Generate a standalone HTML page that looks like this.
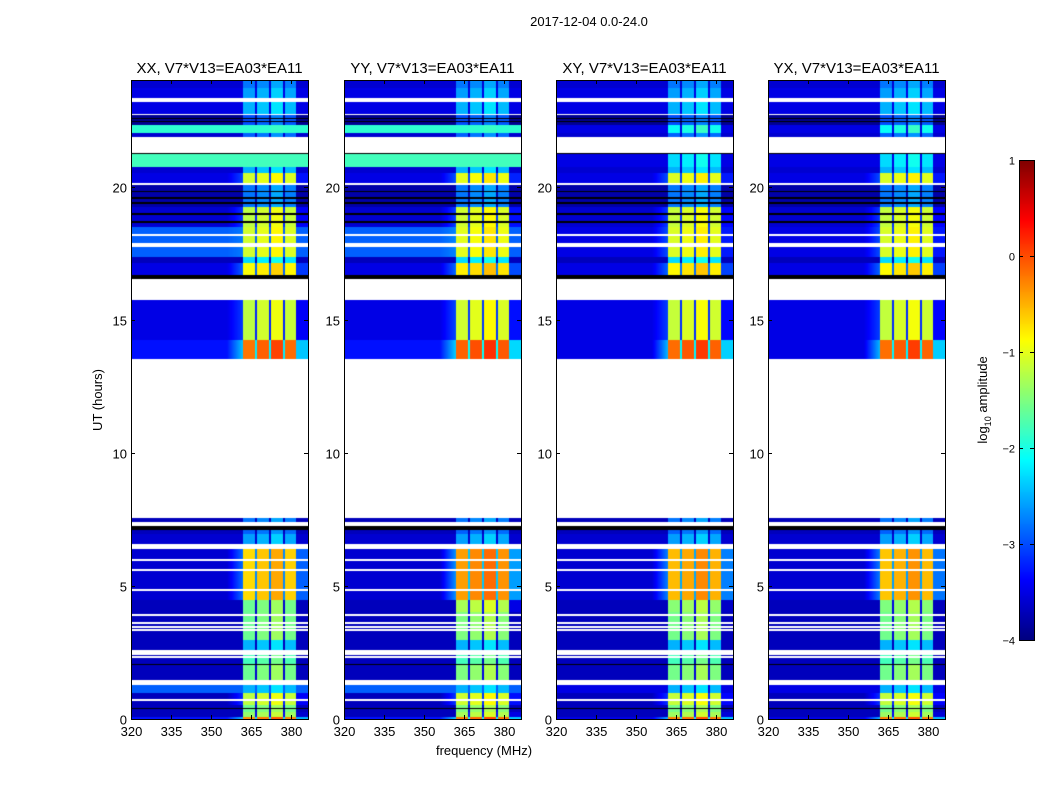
<!DOCTYPE html>
<html><head><meta charset="utf-8">
<style>
body{margin:0;background:#fff;}
#wrap{position:relative;width:1050px;height:800px;overflow:hidden;font-family:"Liberation Sans",sans-serif;}
canvas{position:absolute;}
svg{position:absolute;left:0;top:0;}
</style></head><body>
<div id="wrap">
<svg id="ov" width="1050" height="800"></svg>
</div>
<script>
// ---- data ----
const panelTitles = ["XX, V7*V13=EA03*EA11","YY, V7*V13=EA03*EA11","XY, V7*V13=EA03*EA11","YX, V7*V13=EA03*EA11"];
const panelIsCross = [false,false,true,true];
const panelRfiBoost = [0,0.3,0.15,0.1];
const xTicks = [320,335,350,365,380];
const yTicks = [0,5,10,15,20];
const cbTicks = [1,0,-1,-2,-3,-4];
// time segments (hours): start, end, background log amp, rfi log amp (null = no data)
const segStart = [23.70,23.32,23.17,22.72,22.69,22.31,22.01,21.86,21.26,21.22,20.73,20.51,20.13,20.06,19.23,18.48,17.35,17.13,16.68,16.53,15.74,14.23,13.52,7.55,7.40,7.25,7.10,6.95,6.57,6.38,4.47,2.97,2.59,2.40,2.03,1.46,1.28,0.98,0.53,0.26,0.08,0];
const segEnd   = [24.00,23.70,23.32,23.17,22.72,22.69,22.31,22.01,21.86,21.26,21.22,20.73,20.51,20.13,20.06,19.23,18.48,17.35,17.13,16.68,16.53,15.74,14.23,13.52,7.55,7.40,7.25,7.10,6.95,6.57,6.38,4.47,2.97,2.59,2.40,2.03,1.46,1.28,0.98,0.53,0.26,0.08];
const segBg    = [-3.6,-3.5,null,-3.5,null,-3.9,-1.9,-3.6,null,-9,-1.8,-3.6,-3.5,null,-3.8,-3.6,-2.9,-3.7,-3.5,-9,null,-3.5,-3.3,null,-3.7,null,-9,-3.7,-3.6,null,-3.6,-3.7,-3.7,null,-3.7,-3.7,null,-2.9,-3.7,-3.7,-3.7,-3.3];
const segRfi   = [-2.8,-2.6,null,-2.5,null,-3.0,-2.1,-2.9,null,-9,-2.3,-2.5,-1.1,null,-2.8,-1.2,-1.1,-2.3,-0.9,-9,null,-1.2,-0.2,null,-2.8,null,-9,-2.9,-2.6,null,-0.7,-1.6,-2.5,null,-1.8,-1.6,null,-2.5,-1.2,-1.6,-1.4,-0.3];
const whiteLines = [18.18,17.84,17.76,5.97,5.6,4.85,3.9,3.6,3.46,3.34,2.33,0.71];
const blackLines = [19.8,19.57,19.38,18.97,18.67,22.55,22.45,0.4,2.05];
// RFI channels (MHz)
const chanLo = [362.0,367.3,372.5,377.8];
const chanHi = [366.5,371.7,377.0,381.9];
const chanOffset = [0,0.1,0.25,0.05];

// ---- geometry ----
const panelX = [131,344,556,768], panelW = 177, plotTop = 80, plotBot = 719;
const fMin = 320, fMax = 386.4, tMin = 0, tMax = 24;
const xs = (f,p)=>panelX[p] + (f-fMin)/(fMax-fMin)*panelW;
const ys = t=>plotBot - (t-tMin)/(tMax-tMin)*(plotBot-plotTop);
const vMin=-4,vMax=1;

function jet(v){
  let x=(v-vMin)/(vMax-vMin); x=Math.max(0,Math.min(1,x));
  const c=t=>Math.max(0,Math.min(1,t));
  const r=c(1.5-Math.abs(4*x-3)), g=c(1.5-Math.abs(4*x-2)), b=c(1.5-Math.abs(4*x-1));
  return [r*255|0,g*255|0,b*255|0];
}
function value(p,t,f){
  let i=-1;
  for(let k=0;k<segStart.length;k++){ if(t>=segStart[k]&&t<segEnd[k]){i=k;break;} }
  if(i<0||segBg[i]===null) return null;
  let bg=segBg[i], rfi=segRfi[i];
  if(bg<=-8) return -99;
  if(panelIsCross[p]) bg=Math.min(bg,-3.5);
  if(rfi>-1.7) rfi+=panelRfiBoost[p]*(t>4&&t<7?1:0.3);
  for(const w of whiteLines) if(Math.abs(t-w)<0.025) return null;
  for(const b of blackLines) if(Math.abs(t-b)<0.025) return -99;
  for(let c=0;c<chanLo.length;c++){
    if(f>=chanLo[c]&&f<chanHi[c]) return Math.max(bg,rfi+chanOffset[c]);
  }
  if(f>=chanLo[0]&&f<chanHi[chanHi.length-1]) return Math.max(bg,rfi-2.0);
  if(f>=chanHi[chanHi.length-1]) return Math.max(bg,rfi-2.2);
  if(f>=356&&f<chanLo[0]&&rfi>-1.3){ const fr=(f-356)/(chanLo[0]-356); return bg+(rfi-1.6-bg)*Math.max(0,fr)*0.6; }
  return bg;
}
const wrap=document.getElementById('wrap');
for(let p=0;p<4;p++){
  const cv=document.createElement('canvas');
  
  
  cv.width=panelW; cv.height=plotBot-plotTop;
  cv.style.left=panelX[p]+'px'; cv.style.top=plotTop+'px';
  const ctx=cv.getContext('2d'); const im=ctx.createImageData(cv.width,cv.height);
  for(let y=0;y<cv.height;y++){
    const t=tMax-(y+0.5)/cv.height*(tMax-tMin);
    for(let x=0;x<cv.width;x++){
      const f=fMin+(x+0.5)/cv.width*(fMax-fMin);
      const v=value(p,t,f); const o=(y*cv.width+x)*4;
      let col = v===null?[255,255,255]:(v<-50?[0,0,0]:jet(v));
      im.data[o]=col[0];im.data[o+1]=col[1];im.data[o+2]=col[2];im.data[o+3]=255;
    }
  }
  ctx.putImageData(im,0,0);
  wrap.insertBefore(cv,document.getElementById('ov'));
}
// colorbar
const cb=document.createElement('canvas');


const cbX=1019,cbTop=160,cbBot=640,cbW=15;
cb.width=cbW;cb.height=cbBot-cbTop;cb.style.left=cbX+'px';cb.style.top=cbTop+'px';
{const ctx=cb.getContext('2d');for(let y=0;y<cb.height;y++){const v=vMax-(y+0.5)/cb.height*(vMax-vMin);const c=jet(v);ctx.fillStyle=`rgb(${c[0]},${c[1]},${c[2]})`;ctx.fillRect(0,y,cbW,1);}}
wrap.insertBefore(cb,document.getElementById('ov'));

// ---- overlay ----
const NS='http://www.w3.org/2000/svg', ov=document.getElementById('ov');
function el(tag,attrs,txt){const e=document.createElementNS(NS,tag);for(const k in attrs)e.setAttribute(k,attrs[k]);if(txt!==undefined)e.textContent=txt;ov.appendChild(e);return e;}
const fmt=v=>v<0?'\u2212'+(-v):String(v);
let t=el('text',{x:589,y:26,'font-size':13,'text-anchor':'middle'},'2017-12-04 0.0-24.0');


for(let p=0;p<4;p++){
  const x0=panelX[p];
  let r=el('rect',{x:x0+0.5,y:plotTop+0.5,width:panelW,height:plotBot-plotTop,fill:'none',stroke:'#000','stroke-width':1});
  
  
  let tt=el('text',{x:x0+panelW/2,y:73,'font-size':15,'text-anchor':'middle'},panelTitles[p]);
  
  
  for(const f of xTicks){
    const x=Math.round(xs(f,p))+0.5;
    el('line',{x1:x,x2:x,y1:plotBot,y2:plotBot-4,stroke:'#000'});
    el('line',{x1:x,x2:x,y1:plotTop,y2:plotTop+4,stroke:'#000'});
    let l=el('text',{x:x,y:736,'font-size':13,'text-anchor':'middle'},String(f));
    
    
  }
  for(const h of yTicks){
    const y=Math.round(ys(h))+0.5;
    el('line',{x1:x0,x2:x0+4,y1:y,y2:y,stroke:'#000'});
    el('line',{x1:x0+panelW,x2:x0+panelW-4,y1:y,y2:y,stroke:'#000'});
    let l=el('text',{x:x0-4,y:y+5,'font-size':13,'text-anchor':'end'},String(h));
    
    
  }
}
let xl=el('text',{x:484,y:755,'font-size':13,'text-anchor':'middle'},'frequency (MHz)');


let yl=el('text',{x:0,y:0,'font-size':13,'text-anchor':'middle',transform:'translate(102,400) rotate(-90)'},'UT (hours)');


let cbf=el('rect',{x:cbX+0.5,y:cbTop+0.5,width:cbW,height:cbBot-cbTop,fill:'none',stroke:'#000'});


for(const v of cbTicks){
  const y=Math.round(cbBot-(v-vMin)/(vMax-vMin)*(cbBot-cbTop))+0.5;
  el('line',{x1:cbX,x2:cbX+4,y1:y,y2:y,stroke:'#000'});
  el('line',{x1:cbX+cbW,x2:cbX+cbW-4,y1:y,y2:y,stroke:'#000'});
  let l=el('text',{x:cbX-4,y:y+4,'font-size':11,'text-anchor':'end'},fmt(v));
  
  
}
let cl=el('text',{x:0,y:0,'font-size':13,'text-anchor':'middle',transform:'translate(987,400) rotate(-90)'});


cl.innerHTML='log<tspan font-size="9" dy="4">10</tspan><tspan dy="-4"> amplitude</tspan>';
</script>
</body></html>
